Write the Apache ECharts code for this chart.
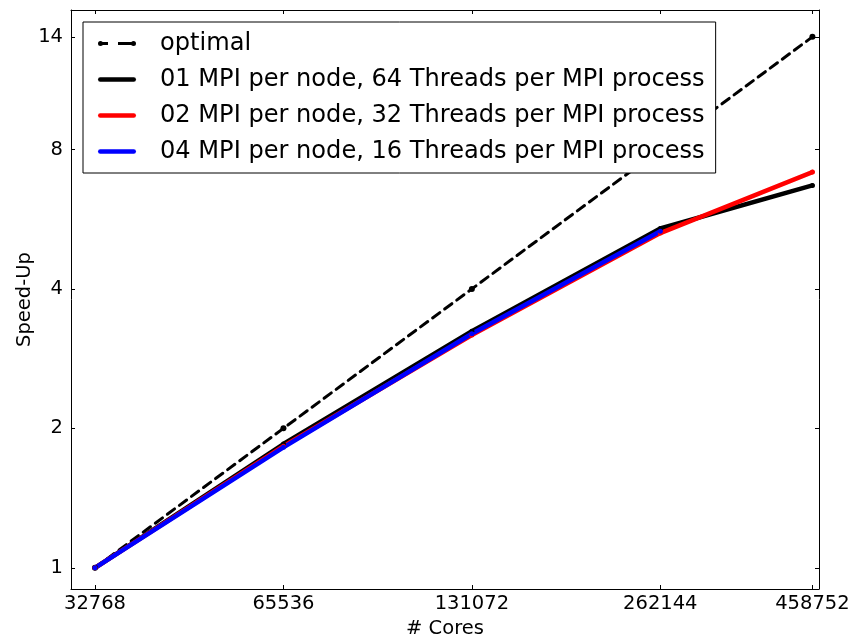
<!DOCTYPE html>
<html>
<head>
<meta charset="utf-8">
<script src="https://cdn.jsdelivr.net/npm/echarts@6/dist/echarts.min.js"></script>
<style>
html,body{margin:0;padding:0;background:#fff;}
#chart{width:852px;height:637px;}
</style>
</head>
<body>
<div id="chart"></div>
<script>
var cores = [32768, 65536, 131072, 262144, 458752];
var xTicks = [32768, 65536, 131072, 262144, 458752];
var yTicks = [1, 2, 4, 8, 14];
var optimal = [1, 2, 4, 8, 14];
var mpi01 = [1, 1.85, 3.24, 5.40, 6.69];
var mpi02 = [1, 1.83, 3.18, 5.28, 7.15];
var mpi04 = [1, 1.82, 3.20, 5.33];
var names = [
  'optimal',
  '01 MPI per node, 64 Threads per MPI process',
  '02 MPI per node, 32 Threads per MPI process',
  '04 MPI per node, 16 Threads per MPI process'
];

function pairs(vals) {
  return vals.map(function (v, i) { return [cores[i], v]; });
}

var FONT = 'DejaVu Sans';
var chart = echarts.init(document.getElementById('chart'), null, {renderer: 'canvas'});

function xAxisDef(pos, show) {
  return {
    type: 'log', logBase: 2, min: 30000, max: 470000, position: pos,
    name: show ? '# Cores' : '', nameLocation: 'middle', nameGap: 26,
    nameTextStyle: {fontFamily: FONT, fontSize: 19.5, color: '#000'},
    axisLine: {show: true, lineStyle: {color: '#000', width: 1}},
    axisTick: {show: true, inside: true, length: 4, customValues: xTicks, lineStyle: {color: '#000', width: 1}},
    axisLabel: {show: show, customValues: xTicks, margin: 5, fontFamily: FONT, fontSize: 19.5, color: '#000',
      formatter: function (v) { return String(Math.round(v)); }},
    minorTick: {show: false}, splitLine: {show: false}
  };
}
function yAxisDef(pos, show) {
  return {
    type: 'log', logBase: 2, min: 0.9, max: 16, position: pos,
    name: show ? 'Speed-Up' : '', nameLocation: 'middle', nameGap: 36, nameRotate: 90,
    nameMoveOverlap: false,
    nameTextStyle: {fontFamily: FONT, fontSize: 19.5, color: '#000'},
    axisLine: {show: true, lineStyle: {color: '#000', width: 1}},
    axisTick: {show: true, inside: true, length: 4, customValues: yTicks, lineStyle: {color: '#000', width: 1}},
    axisLabel: {show: show, customValues: yTicks, margin: 8, fontFamily: FONT, fontSize: 19.5, color: '#000',
      formatter: function (v) { return String(Math.round(v)); }},
    minorTick: {show: false}, splitLine: {show: false}
  };
}

function lineSeries(name, vals, color, width, dashed) {
  return {
    name: name, type: 'line', xAxisIndex: 0, yAxisIndex: 0,
    data: pairs(vals),
    symbol: 'circle', symbolSize: dashed ? 6 : 5, showSymbol: true,
    itemStyle: {color: color},
    lineStyle: {color: color, width: width, type: dashed ? [9, 6] : 'solid', cap: 'round'},
    emphasis: {disabled: true},
    animation: false
  };
}

var solidIcon = 'path://M2.25,0 L35.75,0 A2.25,2.25 0 0 1 35.75,4.5 L2.25,4.5 A2.25,2.25 0 0 1 2.25,0 Z';
var dashIcon = 'path://M2.5,0 A2.5,2.5 0 0 1 2.5,5 A2.5,2.5 0 0 1 2.5,0 Z M2.5,1 L10,1 L10,4 L2.5,4 Z ' +
  'M20,1 L35.5,1 L35.5,4 L20,4 Z M35.5,0 A2.5,2.5 0 0 1 35.5,5 A2.5,2.5 0 0 1 35.5,0 Z M0,2.5 L0.01,2.5 Z M38,2.5 L37.99,2.5 Z';

chart.setOption({
  animation: false,
  backgroundColor: '#fff',
  grid: {left: 71, right: 33, top: 10, bottom: 48, show: false, containLabel: false, outerBoundsMode: 'none'},
  xAxis: [xAxisDef('bottom', true), xAxisDef('top', false)],
  yAxis: [yAxisDef('left', true), yAxisDef('right', false)],
  legend: {
    orient: 'vertical', left: 83, top: 22,
    padding: [7, 11, 7, 15], itemGap: 7,
    itemWidth: 38, itemHeight: 14,
    backgroundColor: '#fff', borderColor: '#000', borderWidth: 1, borderRadius: 0,
    textStyle: {fontFamily: FONT, fontSize: 24.1, color: '#000', lineHeight: 29, padding: [0, 0, 0, 19]},
    data: [
      {name: names[0], icon: dashIcon},
      {name: names[1], icon: solidIcon},
      {name: names[2], icon: solidIcon},
      {name: names[3], icon: solidIcon}
    ]
  },
  series: [
    lineSeries(names[0], optimal, '#000', 3, true),
    lineSeries(names[1], mpi01, '#000', 4.5, false),
    lineSeries(names[2], mpi02, '#ff0000', 4.5, false),
    lineSeries(names[3], mpi04, '#0000ff', 4.5, false)
  ]
});
</script>
</body>
</html>
